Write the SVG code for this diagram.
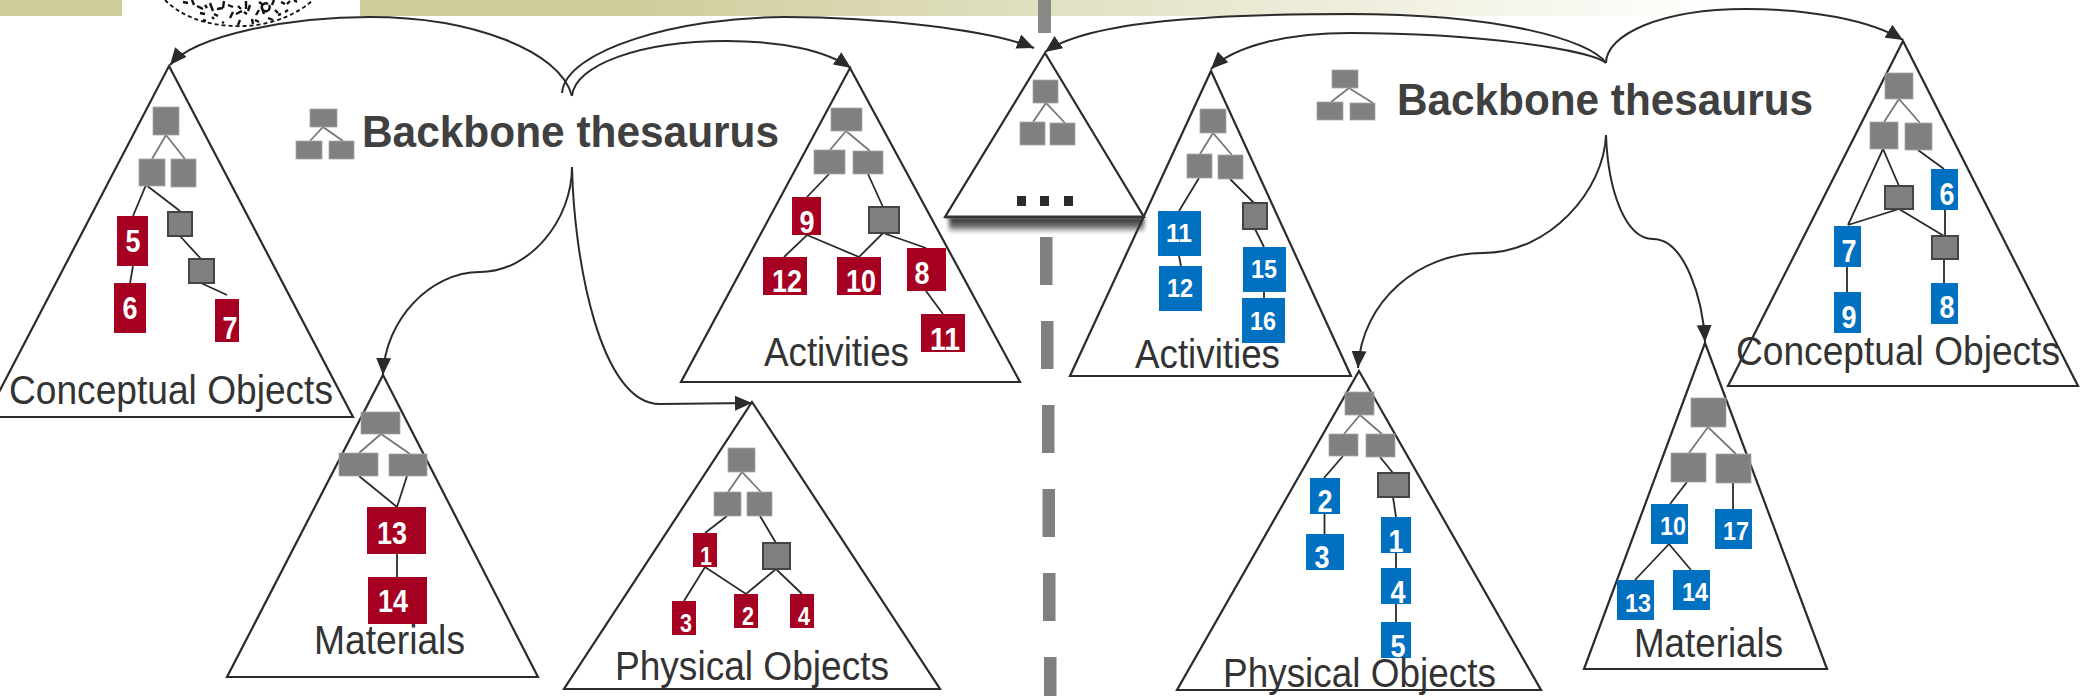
<svg xmlns="http://www.w3.org/2000/svg" width="2080" height="696" viewBox="0 0 2080 696">
<style>
text{font-family:"Liberation Sans",Arial,sans-serif}
.tri{fill:none;stroke:#2b2b2b;stroke-width:2.2;stroke-linejoin:miter}
.g{fill:#808080;stroke:#a8a8a8;stroke-width:.8}
.d{fill:#808080;stroke:#444;stroke-width:2}
.gl{fill:none;stroke:#777;stroke-width:1.8}
.dl{fill:none;stroke:#2b2b2b;stroke-width:1.8}
.r{fill:#a50021}
.b{fill:#0070c0}
.n{fill:#fff;font-weight:700;text-anchor:middle}
.n28{font-size:31px}
.n24{font-size:26px}
.lab{fill:#333;font-size:41px}
.bb{fill:#404040;font-size:44px;font-weight:700}
.c{fill:none;stroke:#2b2b2b;stroke-width:2;marker-end:url(#ah)}
.dash{fill:#808080}
</style>
<defs>
<linearGradient id="band" gradientUnits="userSpaceOnUse" x1="360" y1="0" x2="1730" y2="0">
<stop offset="0" stop-color="#cfcd9c"/><stop offset=".2" stop-color="#cfcd9c"/><stop offset="1" stop-color="#ffffff"/>
</linearGradient>
<linearGradient id="shade" x1="0" y1="0" x2="0" y2="1">
<stop offset="0" stop-color="#222" stop-opacity=".95"/><stop offset=".5" stop-color="#333" stop-opacity=".7"/><stop offset="1" stop-color="#555" stop-opacity="0"/>
</linearGradient>
<marker id="ah" markerUnits="userSpaceOnUse" markerWidth="18" markerHeight="16" refX="17" refY="8" orient="auto">
<path d="M0,0.5 L17,8 L0,15.500 z" fill="#2b2b2b"/>
</marker>
<filter id="blur" x="-5%" y="-30%" width="110%" height="160%"><feGaussianBlur stdDeviation="2 .8"/></filter>
</defs>

<g id="background">
<rect x="0" y="0" width="122" height="16" fill="#cfcd9c"/>
<rect x="360" y="0" width="1370" height="16" fill="url(#band)"/>
<path d="M165,0 C185,20 215,27 245,26 C275,25 300,12 313,0" fill="none" stroke="#111" stroke-width="1.800" stroke-dasharray="4 3"/>
<path d="M183,2 l5,1 M192,0 l2,5 M197,6 l6,3 M200,13 l5,1 M210,3 l3,8 M217,9 l6,-1 M224,1 l-1,7 M228,5 l5,2 M233,12 l-3,6 M236,14 l6,-3 M240,20 l-2,5 M246,1 l0,8 M250,5 l-2,6 M256,15 l3,-5 M262,8 l2,6 M268,4 a4,4 0 1 0 1,1 M274,0 l-2,5 M281,2 l4,2 M287,4 l3,-3 M294,0 l3,2 M203,20 l3,1 M212,17 l2,2 M222,22 l2,1 M255,20 l4,2 M268,18 l5,2 M278,15 l3,-1 M205,5 l2,3 M214,14 l4,2 M238,6 l3,3 M244,12 l3,2 M252,19 l1,5 M259,2 l3,2 M275,10 l3,3 M285,12 l3,-2" fill="none" stroke="#111" stroke-width="2.400"/>
</g>

<g id="divider">
<rect class="dash" x="1038" y="0" width="13" height="33" fill-opacity=".92"/>
<rect class="dash" x="1040" y="237" width="12.500" height="48"/>
<rect class="dash" x="1041" y="321" width="12.500" height="48"/>
<rect class="dash" x="1042" y="405" width="12.500" height="48"/>
<rect class="dash" x="1042.500" y="489" width="12.500" height="48"/>
<rect class="dash" x="1043" y="573" width="12.500" height="48"/>
<rect class="dash" x="1044" y="657" width="12.500" height="39"/>
</g>

<g id="connectors">
<path class="c" d="M572,96 C560,50 470,17 370,17 C290,17 195,35 170,65"/>
<path class="c" d="M562,93 C565,50 680,17 784,17 C880,17 990,30 1034,48"/>
<path class="c" d="M572,96 C575,65 640,41 726,41 C780,41 825,50 851,68"/>
<path class="c" d="M572,167 C572,220 530,272 480,272 C430,272 385,320 383,375"/>
<path class="c" d="M572,167 C574,260 600,404 660,404 L752,403"/>
<path class="c" d="M1606,63 C1590,40 1500,14 1350,14 C1220,14 1090,20 1045,52"/>
<path class="c" d="M1606,63 C1590,50 1480,33 1350,33 C1290,33 1235,45 1211,69"/>
<path class="c" d="M1606,63 C1606,35 1660,9 1746,9 C1810,9 1870,20 1903,40"/>
<path class="c" d="M1606,135 C1604,190 1550,253 1483,253 C1420,253 1362,300 1358,368"/>
<path class="c" d="M1606,135 C1608,190 1625,239 1653,239 C1685,239 1703,300 1705,342"/>
</g>

<g id="backbone-left">
<path class="gl" d="M310,141 L323,127 L343,141"/>
<rect class="g" x="310" y="109" width="27" height="18"/>
<rect class="g" x="296" y="141" width="26" height="18"/>
<rect class="g" x="329" y="141" width="25" height="18"/>
<text class="bb" x="362" y="147" textLength="417" lengthAdjust="spacingAndGlyphs">Backbone thesaurus</text>
</g>

<g id="backbone-right">
<path class="gl" d="M1331,102 L1349,88 L1373,103"/>
<rect class="g" x="1332" y="70" width="26" height="18"/>
<rect class="g" x="1317" y="102" width="26" height="18"/>
<rect class="g" x="1350" y="103" width="25" height="17"/>
<text class="bb" x="1397" y="115" textLength="416" lengthAdjust="spacingAndGlyphs">Backbone thesaurus</text>
</g>

<g id="conceptual-left">
<path class="tri" d="M169,66 L353,417 L-14,417 Z"/>
<path class="gl" d="M152,159 L166,135 L185,159"/>
<path class="dl" d="M133,216 L146,185 L180,211 M133,266 L130,283 M180,236 L201,259 M201,283 L227,295"/>
<rect class="g" x="153" y="107" width="26" height="28"/>
<rect class="g" x="139" y="159" width="26" height="27"/>
<rect class="g" x="171" y="159" width="25" height="28"/>
<rect class="d" x="168" y="212" width="24" height="24"/>
<rect class="d" x="189" y="259" width="25" height="24"/>
<rect class="r" x="117" y="216" width="31" height="50"/><text class="n n28" x="133" y="252" textLength="15" lengthAdjust="spacingAndGlyphs">5</text>
<rect class="r" x="114" y="283" width="32" height="50"/><text class="n n28" x="130" y="319" textLength="15" lengthAdjust="spacingAndGlyphs">6</text>
<rect class="r" x="215" y="299" width="24" height="43"/><text class="n n28" x="230" y="339" textLength="15" lengthAdjust="spacingAndGlyphs">7</text>
<text class="lab" x="9" y="404" textLength="324" lengthAdjust="spacingAndGlyphs">Conceptual Objects</text>
</g>

<g id="materials-left">
<path class="tri" d="M383,375 L538,677 L227,677 Z"/>
<path class="gl" d="M359,453 L381,434 L410,454"/>
<path class="dl" d="M359,476 L397,507 L407,476 M397,554 L397,577"/>
<rect class="g" x="361" y="412" width="39" height="22"/>
<rect class="g" x="339" y="453" width="39" height="23"/>
<rect class="g" x="389" y="454" width="38" height="22"/>
<rect class="r" x="367" y="507" width="59" height="47"/><text class="n n28" x="392" y="544" textLength="30" lengthAdjust="spacingAndGlyphs">13</text>
<rect class="r" x="368" y="577" width="59" height="47"/><text class="n n28" x="393" y="612" textLength="30" lengthAdjust="spacingAndGlyphs">14</text>
<text class="lab" x="314" y="654" textLength="151" lengthAdjust="spacingAndGlyphs">Materials</text>
</g>

<g id="physical-left">
<path class="tri" d="M752,402 L940,689 L564,689 Z"/>
<path class="gl" d="M728,492 L742,472 L761,492"/>
<path class="dl" d="M727,516 L705,533 M760,516 L776,543 M684,601 L705,567 L746,594 L776,569 L802,594"/>
<rect class="g" x="728" y="448" width="27" height="24"/>
<rect class="g" x="714" y="492" width="27" height="24"/>
<rect class="g" x="747" y="492" width="25" height="24"/>
<rect class="d" x="763" y="543" width="27" height="26"/>
<rect class="r" x="693" y="533" width="24" height="34"/><text class="n n24" x="706" y="565" textLength="12" lengthAdjust="spacingAndGlyphs">1</text>
<rect class="r" x="672" y="601" width="24" height="34"/><text class="n n24" x="686" y="632" textLength="12" lengthAdjust="spacingAndGlyphs">3</text>
<rect class="r" x="734" y="594" width="24" height="34"/><text class="n n24" x="748" y="625" textLength="12" lengthAdjust="spacingAndGlyphs">2</text>
<rect class="r" x="790" y="594" width="24" height="34"/><text class="n n24" x="804" y="625" textLength="12" lengthAdjust="spacingAndGlyphs">4</text>
<text class="lab" x="615" y="680" textLength="274" lengthAdjust="spacingAndGlyphs">Physical Objects</text>
</g>

<g id="activities-left">
<path class="tri" d="M850,68 L1020,382 L681,382 Z"/>
<path class="gl" d="M830,150 L846,131 L870,151"/>
<path class="dl" d="M829,174 L807,197 M868,174 L883,207 M784,257 L807,235 L859,257 L883,233 L926,248 M926,291 L943,314"/>
<rect class="g" x="831" y="108" width="31" height="23"/>
<rect class="g" x="814" y="150" width="31" height="24"/>
<rect class="g" x="853" y="151" width="30" height="23"/>
<rect class="d" x="869" y="207" width="30" height="26"/>
<rect class="r" x="792" y="197" width="29" height="38"/><text class="n n28" x="807" y="233" textLength="15" lengthAdjust="spacingAndGlyphs">9</text>
<rect class="r" x="763" y="257" width="44" height="38"/><text class="n n28" x="787" y="292" textLength="30" lengthAdjust="spacingAndGlyphs">12</text>
<rect class="r" x="837" y="257" width="44" height="38"/><text class="n n28" x="861" y="292" textLength="30" lengthAdjust="spacingAndGlyphs">10</text>
<rect class="r" x="907" y="248" width="39" height="43"/><text class="n n28" x="922" y="284" textLength="15" lengthAdjust="spacingAndGlyphs">8</text>
<rect class="r" x="921" y="314" width="44" height="38"/><text class="n n28" x="945" y="350" textLength="30" lengthAdjust="spacingAndGlyphs">11</text>
<text class="lab" x="764" y="366" textLength="145" lengthAdjust="spacingAndGlyphs">Activities</text>
</g>

<g id="activities-right">
<path class="tri" d="M1211,71 L1351,376 L1070,376 Z"/>
<path class="gl" d="M1200,154 L1213,133 L1232,155"/>
<path class="dl" d="M1199,178 L1179,211 M1230,179 L1254,203 M1179,256 L1181,266 M1255,229 L1264,247 M1264,292 L1264,298"/>
<rect class="g" x="1200" y="109" width="26" height="24"/>
<rect class="g" x="1187" y="154" width="25" height="24"/>
<rect class="g" x="1218" y="155" width="25" height="24"/>
<rect class="d" x="1243" y="203" width="24" height="26"/>
<rect class="b" x="1158" y="211" width="43" height="45"/><text class="n n24" x="1179" y="242" textLength="26" lengthAdjust="spacingAndGlyphs">11</text>
<rect class="b" x="1159" y="266" width="43" height="45"/><text class="n n24" x="1180" y="297" textLength="26" lengthAdjust="spacingAndGlyphs">12</text>
<rect class="b" x="1243" y="247" width="43" height="45"/><text class="n n24" x="1264" y="278" textLength="26" lengthAdjust="spacingAndGlyphs">15</text>
<rect class="b" x="1242" y="298" width="43" height="45"/><text class="n n24" x="1263" y="330" textLength="26" lengthAdjust="spacingAndGlyphs">16</text>
<text class="lab" x="1135" y="368" textLength="145" lengthAdjust="spacingAndGlyphs">Activities</text>
</g>

<g id="middle">
<rect x="949" y="218" width="195" height="16" fill="url(#shade)" filter="url(#blur)"/>
<path class="tri" d="M1045,53 L1144,217 L945,217 Z"/>
<path d="M945,217 H1144" stroke="#333" stroke-width="3"/>
<path class="gl" d="M1033,122 L1046,103 L1065,123"/>
<rect class="g" x="1033" y="80" width="25" height="23"/>
<rect class="g" x="1020" y="122" width="25" height="23"/>
<rect class="g" x="1050" y="123" width="25" height="22"/>
<rect x="1017" y="196" width="9" height="10" fill="#2b2b2b"/>
<rect x="1040" y="196" width="9" height="10" fill="#2b2b2b"/>
<rect x="1064" y="196" width="9" height="10" fill="#2b2b2b"/>
</g>

<g id="conceptual-right">
<path class="tri" d="M1903,41 L2078,386 L1728,386 Z"/>
<path class="gl" d="M1884,122 L1899,99 L1920,123"/>
<path class="dl" d="M1848,225 L1883,149 L1899,186 M1918,150 L1944,169 M1848,225 L1899,209 L1944,236 M1945,210 L1945,236 M1847,267 L1847,292 M1944,259 L1944,283"/>
<rect class="g" x="1885" y="73" width="28" height="26"/>
<rect class="g" x="1870" y="122" width="28" height="27"/>
<rect class="g" x="1905" y="123" width="27" height="27"/>
<rect class="d" x="1885" y="186" width="28" height="23"/>
<rect class="d" x="1932" y="236" width="26" height="23"/>
<rect class="b" x="1931" y="169" width="27" height="41"/><text class="n n28" x="1947" y="205" textLength="15" lengthAdjust="spacingAndGlyphs">6</text>
<rect class="b" x="1834" y="226" width="27" height="41"/><text class="n n28" x="1849" y="262" textLength="15" lengthAdjust="spacingAndGlyphs">7</text>
<rect class="b" x="1834" y="292" width="27" height="41"/><text class="n n28" x="1849" y="328" textLength="15" lengthAdjust="spacingAndGlyphs">9</text>
<rect class="b" x="1931" y="283" width="27" height="41"/><text class="n n28" x="1947" y="318" textLength="15" lengthAdjust="spacingAndGlyphs">8</text>
<text class="lab" x="1736" y="365" textLength="324" lengthAdjust="spacingAndGlyphs">Conceptual Objects</text>
</g>

<g id="physical-right">
<path class="tri" d="M1359,371 L1541,690 L1177,690 Z"/>
<path class="gl" d="M1344,434 L1360,415 L1382,434"/>
<path class="dl" d="M1343,456 L1324,478 M1380,457 L1393,473 M1324.500,514 L1324.500,534 M1393,497 L1396,517 M1396,553 L1396,568 M1396,604 L1396,622"/>
<rect class="g" x="1345" y="392" width="29" height="23"/>
<rect class="g" x="1329" y="434" width="29" height="22"/>
<rect class="g" x="1366" y="434" width="29" height="23"/>
<rect class="d" x="1378" y="473" width="31" height="24"/>
<rect class="b" x="1310" y="478" width="30" height="36"/><text class="n n28" x="1325" y="512" textLength="15" lengthAdjust="spacingAndGlyphs">2</text>
<rect class="b" x="1306" y="534" width="38" height="36"/><text class="n n28" x="1322" y="568" textLength="15" lengthAdjust="spacingAndGlyphs">3</text>
<rect class="b" x="1381" y="517" width="30" height="36"/><text class="n n28" x="1396" y="552" textLength="15" lengthAdjust="spacingAndGlyphs">1</text>
<rect class="b" x="1381" y="568" width="30" height="36"/><text class="n n28" x="1398" y="603" textLength="15" lengthAdjust="spacingAndGlyphs">4</text>
<rect class="b" x="1381" y="622" width="30" height="36"/><text class="n n28" x="1398" y="657" textLength="15" lengthAdjust="spacingAndGlyphs">5</text>
<text class="lab" x="1223" y="687" textLength="273" lengthAdjust="spacingAndGlyphs">Physical Objects</text>
</g>

<g id="materials-right">
<path class="tri" d="M1705,343 L1827,669 L1584,669 Z"/>
<path class="gl" d="M1689,453 L1708,427 L1736,454"/>
<path class="dl" d="M1687,482 L1670,504 M1733,483 L1733,509 M1635,580 L1669,544 L1691,570"/>
<rect class="g" x="1691" y="398" width="35" height="29"/>
<rect class="g" x="1671" y="453" width="35" height="29"/>
<rect class="g" x="1716" y="454" width="35" height="29"/>
<rect class="b" x="1651" y="504" width="37" height="40"/><text class="n n24" x="1673" y="535" textLength="26" lengthAdjust="spacingAndGlyphs">10</text>
<rect class="b" x="1715" y="509" width="37" height="40"/><text class="n n24" x="1736" y="540" textLength="26" lengthAdjust="spacingAndGlyphs">17</text>
<rect class="b" x="1617" y="580" width="37" height="40"/><text class="n n24" x="1638" y="612" textLength="26" lengthAdjust="spacingAndGlyphs">13</text>
<rect class="b" x="1673" y="570" width="37" height="40"/><text class="n n24" x="1695" y="601" textLength="26" lengthAdjust="spacingAndGlyphs">14</text>
<text class="lab" x="1634" y="657" textLength="149" lengthAdjust="spacingAndGlyphs">Materials</text>
</g>
</svg>
